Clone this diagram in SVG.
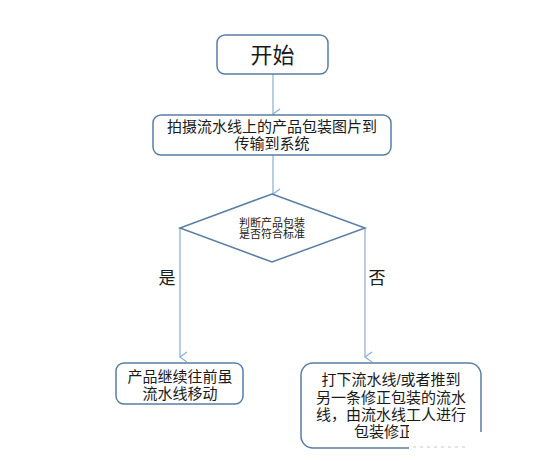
<svg xmlns="http://www.w3.org/2000/svg" width="540" height="461" viewBox="0 0 540 461">
<style>
.box{fill:#fff;stroke:#5a7ea3;stroke-width:1.5}
.con{fill:none;stroke:#8fb2d6;stroke-width:1.3}
.t{font-family:"Liberation Sans","Noto Sans CJK SC",sans-serif;fill:#1a1a1a;text-anchor:middle}
</style>
<defs>
<marker id="arr" markerWidth="12" markerHeight="12" refX="6" refY="10" orient="auto" markerUnits="userSpaceOnUse" viewBox="0 0 12 12">
<path d="M1,3 L6,10 L11,3" fill="none" stroke="#8fb2d6" stroke-width="1.3"/>
</marker>
</defs>
<rect width="540" height="461" fill="#fff"/>
<g id="connectors">
<line class="con" x1="273" y1="74" x2="273" y2="114" marker-end="url(#arr)"/>
<line class="con" x1="273" y1="155" x2="273" y2="194" marker-end="url(#arr)"/>
<polyline class="con" points="180,228 180,357" marker-end="url(#arr)"/>
<polyline class="con" points="365,228 365,357" marker-end="url(#arr)"/>
<text class="t" x="167" y="284" font-size="17">是</text>
<text class="t" x="377" y="284" font-size="17">否</text>
</g>
<g id="start">
<rect class="box" x="217" y="35" width="111" height="39" rx="8"/>
<text class="t" x="272.5" y="63" font-size="22">开始</text>
</g>
<g id="capture">
<rect class="box" x="153" y="115" width="238" height="40" rx="8"/>
<text class="t" x="272" y="132" font-size="15">拍摄流水线上的产品包装图片到</text>
<text class="t" x="272" y="149" font-size="15">传输到系统</text>
</g>
<g id="decision">
<polygon class="box" points="272,194 365,228 272,262 180,228"/>
<text class="t" x="272" y="227" font-size="11">判断产品包装</text>
<text class="t" x="272" y="238" font-size="11">是否符合标准</text>
</g>
<g id="continue">
<rect class="box" x="116" y="363" width="127" height="41" rx="8"/>
<text class="t" x="180" y="382" font-size="15">产品继续往前虽</text>
<text class="t" x="180" y="399" font-size="15">流水线移动</text>
</g>
<g id="reject">
<rect class="box" x="301" y="363" width="180" height="85" rx="12"/>
<text class="t" x="391" y="385" font-size="15">打下流水线/或者推到</text>
<text class="t" x="391" y="403" font-size="15">另一条修正包装的流水</text>
<text class="t" x="391" y="420" font-size="15">线，由流水线工人进行</text>
<text class="t" x="384" y="437" font-size="15">包装修正</text>
</g>
<rect x="409" y="425" width="62" height="36" fill="#fff"/>
<rect x="470" y="432" width="32" height="29" fill="#fff"/>
<line x1="413" y1="447" x2="466" y2="447" stroke="#c8c8c8" stroke-width="1" stroke-dasharray="3,4"/>
</svg>
